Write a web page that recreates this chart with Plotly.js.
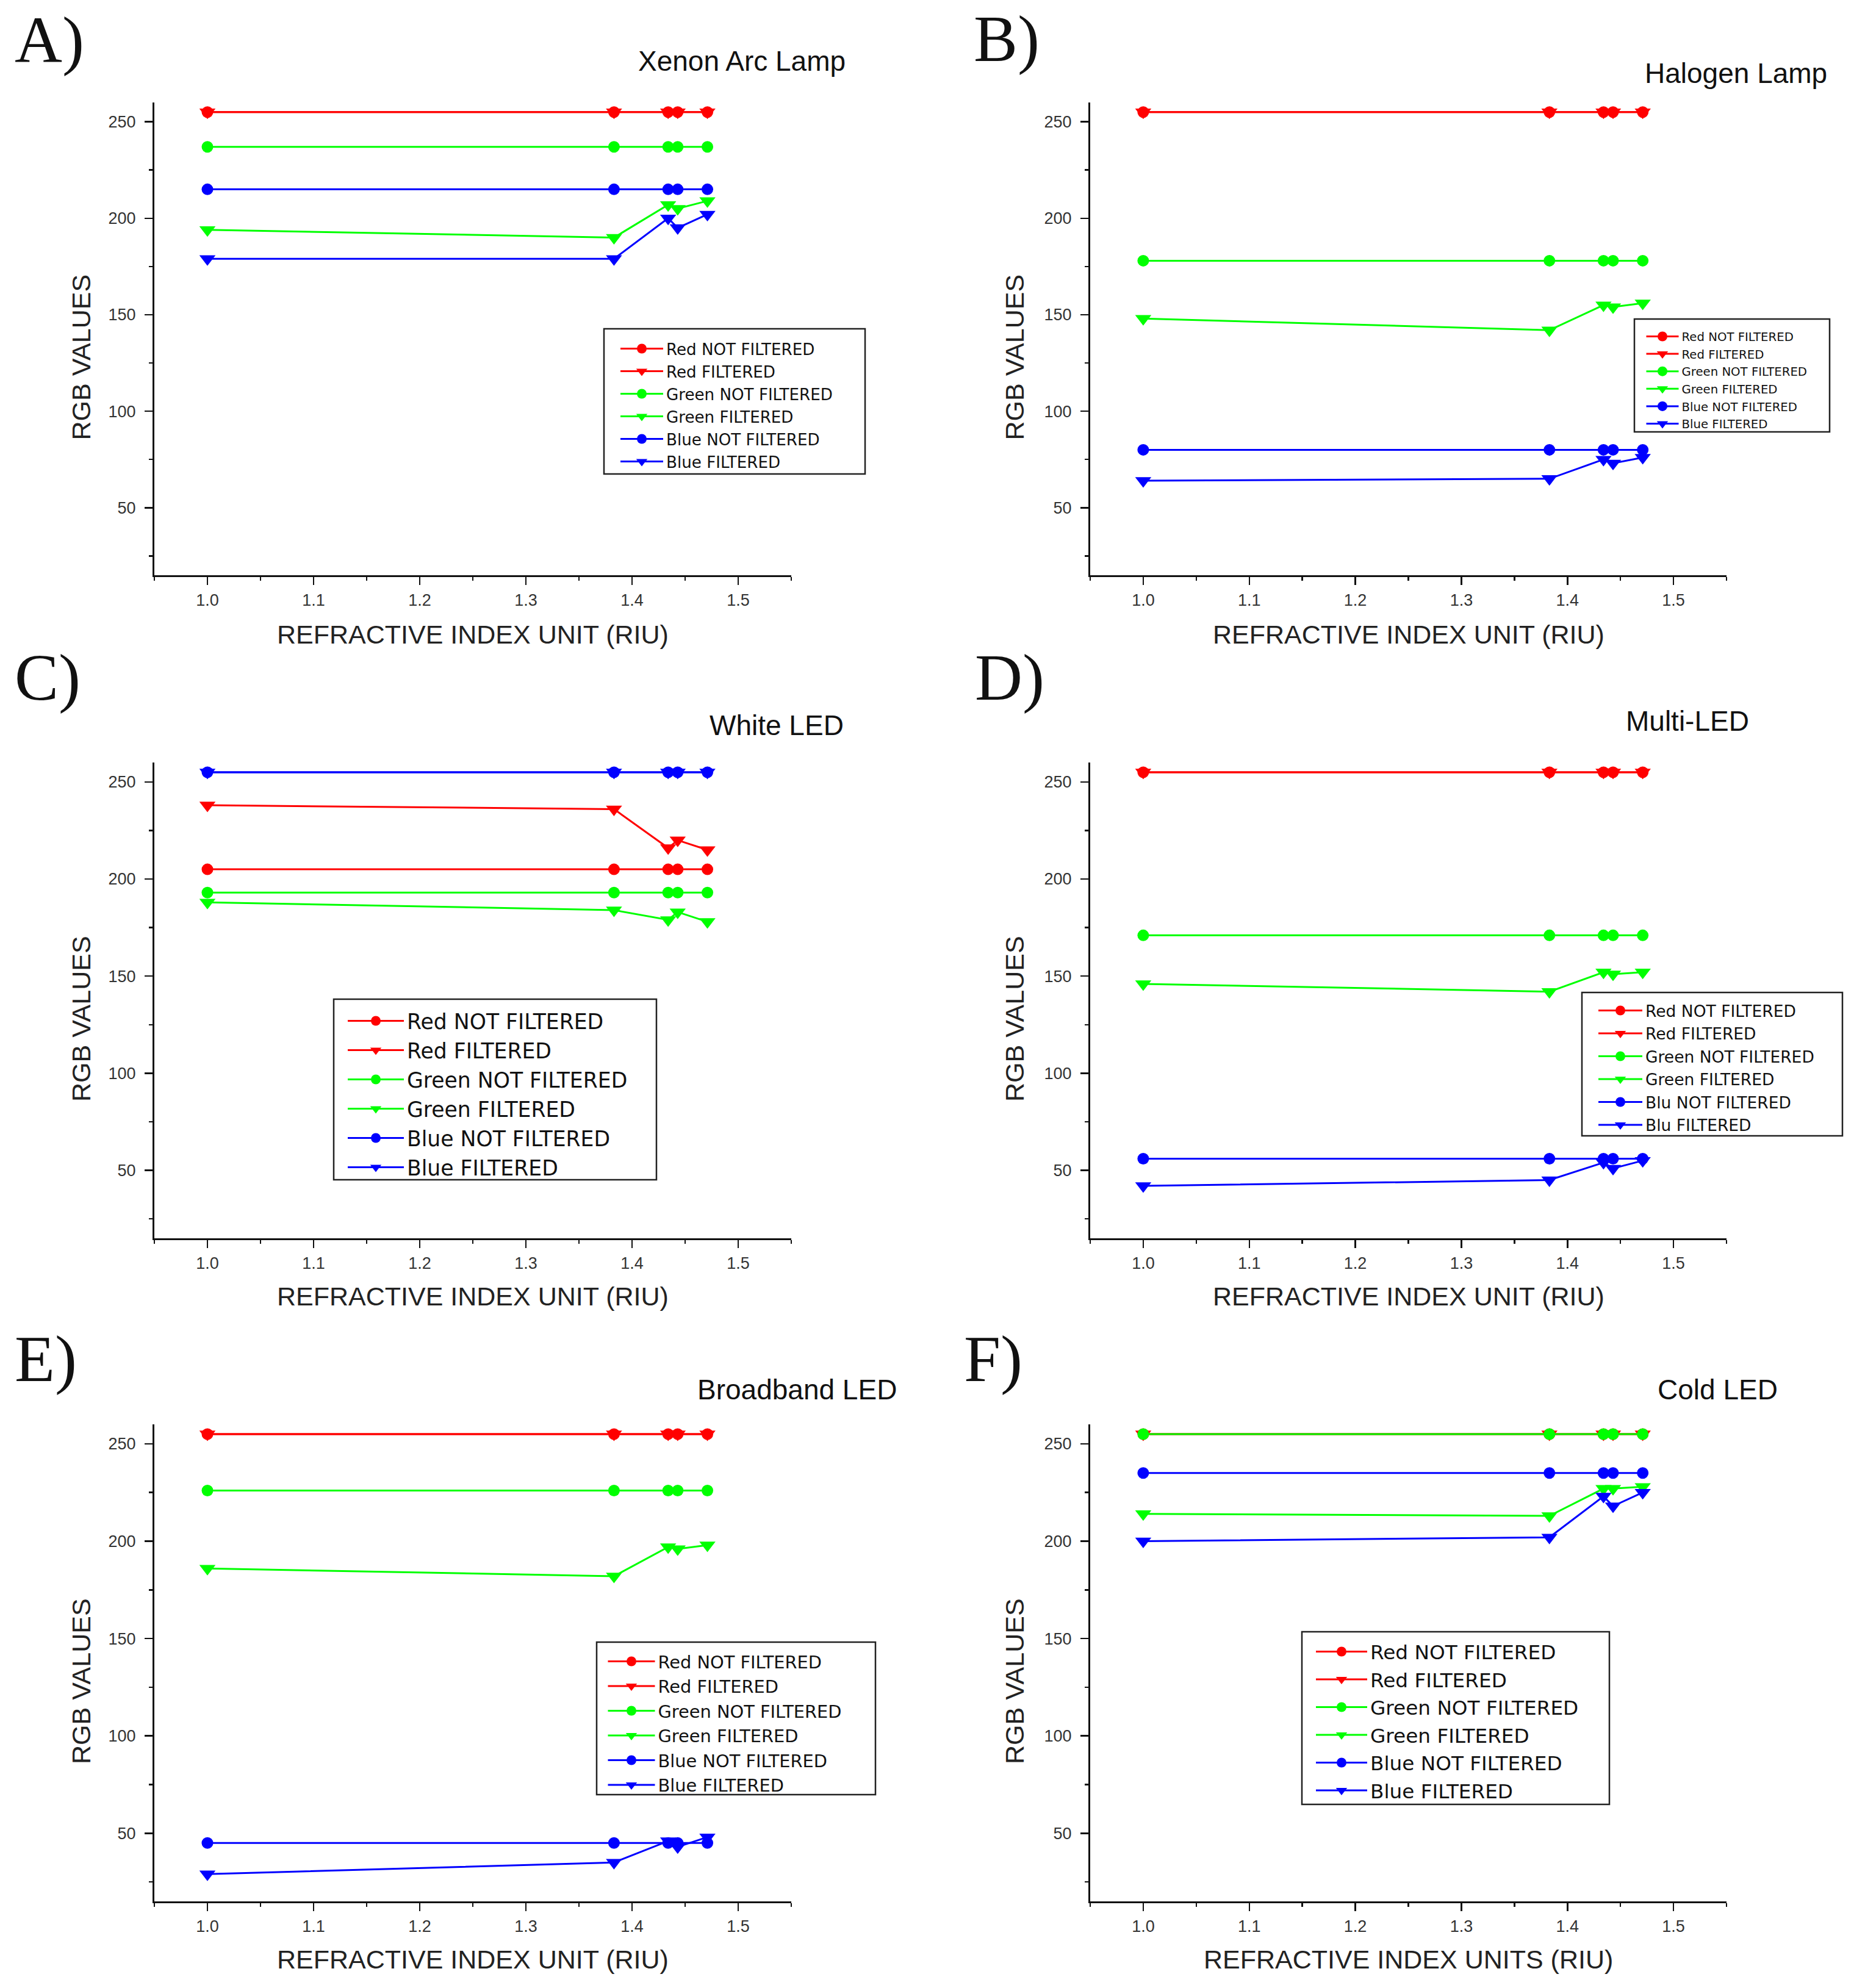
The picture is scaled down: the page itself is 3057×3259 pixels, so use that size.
<!DOCTYPE html>
<html><head><meta charset="utf-8">
<script src="https://cdn.plot.ly/plotly-3.0.1.min.js"></script>
<style>html,body{margin:0;padding:0;background:#fff}#chart{width:3057px;height:3259px}</style>
</head><body><div id="chart"></div>
<script>
// ---------- DATA ----------
const riu = [1.0, 1.383, 1.434, 1.443, 1.471];
const seriesNames = ['Red NOT FILTERED','Red FILTERED','Green NOT FILTERED','Green FILTERED','Blue NOT FILTERED','Blue FILTERED'];
const seriesNamesMulti = ['Red NOT FILTERED','Red FILTERED','Green NOT FILTERED','Green FILTERED','Blu NOT FILTERED','Blu FILTERED'];
const panelTitles = ['Xenon Arc Lamp','Halogen Lamp','White LED','Multi-LED','Broadband LED','Cold LED'];
const panelLetters = ['A)','B)','C)','D)','E)','F)'];
const xTitles = ['REFRACTIVE INDEX UNIT (RIU)','REFRACTIVE INDEX UNIT (RIU)','REFRACTIVE INDEX UNIT (RIU)','REFRACTIVE INDEX UNIT (RIU)','REFRACTIVE INDEX UNIT (RIU)','REFRACTIVE INDEX UNITS (RIU)'];
const yTitle = 'RGB VALUES';
const xTickVals = [1.0, 1.1, 1.2, 1.3, 1.4, 1.5];
const xTickText = ['1.0','1.1','1.2','1.3','1.4','1.5'];
const yTickVals = [50, 100, 150, 200, 250];

// A) Xenon Arc Lamp
const xenonRedNot   = [255, 255, 255, 255, 255];
const xenonRedFil   = [255, 255, 255, 255, 255];
const xenonGreenNot = [237, 237, 237, 237, 237];
const xenonGreenFil = [194, 190, 207, 205, 209];
const xenonBlueNot  = [215, 215, 215, 215, 215];
const xenonBlueFil  = [179, 179, 200, 195, 202];
// B) Halogen Lamp
const halogenRedNot   = [255, 255, 255, 255, 255];
const halogenRedFil   = [255, 255, 255, 255, 255];
const halogenGreenNot = [178, 178, 178, 178, 178];
const halogenGreenFil = [148, 142, 155, 154, 156];
const halogenBlueNot  = [80, 80, 80, 80, 80];
const halogenBlueFil  = [64, 65, 75, 73, 76];
// C) White LED
const whiteRedNot   = [205, 205, 205, 205, 205];
const whiteRedFil   = [238, 236, 216, 220, 215];
const whiteGreenNot = [193, 193, 193, 193, 193];
const whiteGreenFil = [188, 184, 179, 183, 178];
const whiteBlueNot  = [255, 255, 255, 255, 255];
const whiteBlueFil  = [255, 255, 255, 255, 255];
// D) Multi-LED
const multiRedNot   = [255, 255, 255, 255, 255];
const multiRedFil   = [255, 255, 255, 255, 255];
const multiGreenNot = [171, 171, 171, 171, 171];
const multiGreenFil = [146, 142, 152, 151, 152];
const multiBlueNot  = [56, 56, 56, 56, 56];
const multiBlueFil  = [42, 45, 54, 51, 55];
// E) Broadband LED
const broadRedNot   = [255, 255, 255, 255, 255];
const broadRedFil   = [255, 255, 255, 255, 255];
const broadGreenNot = [226, 226, 226, 226, 226];
const broadGreenFil = [186, 182, 197, 196, 198];
const broadBlueNot  = [45, 45, 45, 45, 45];
const broadBlueFil  = [29, 35, 46, 43, 48];
// F) Cold LED
const coldRedNot   = [255, 255, 255, 255, 255];
const coldRedFil   = [255, 255, 255, 255, 255];
const coldGreenNot = [255, 255, 255, 255, 255];
const coldGreenFil = [214, 213, 227, 227, 228];
const coldBlueNot  = [235, 235, 235, 235, 235];
const coldBlueFil  = [200, 202, 223, 218, 225];

// ---------- STYLE / GEOMETRY ----------
const W = 3057, H = 3259;
const seriesColors = ['#ff0000','#ff0000','#00ff00','#00ff00','#0000ff','#0000ff'];
const seriesSymbols = ['circle','triangle-down','circle','triangle-down','circle','triangle-down'];
const seriesSizes = [19, 23, 19, 23, 19, 23];
const colX = [[253, 1297], [1787, 2830]];
const rowY = [[168, 943], [1250, 2030], [2335, 3117]];
// legend frame [x0,y0,x1,y1]
const legendBox = [[990, 539, 1418, 777], [2679, 523, 2999, 708], [547, 1638, 1076, 1934],
                   [2593, 1627, 3020, 1862], [978, 2692, 1435, 2942], [2134, 2675, 2638, 2958]];
// symbol centre x, first row centre y, row pitch, symbol item width
const legendItem = [[1052, 572, 37, 70], [2725, 552, 28.6, 53], [616, 1674, 48, 92],
                    [2656, 1657, 37.5, 72], [1035, 2724, 40.5, 77], [2199, 2708, 45.5, 84]];
const titlePos = [[1216, 100], [2845, 120], [1273, 1189], [2766, 1182], [1306, 2278], [2815, 2278]];
const letterPos = [[22, 66], [1594, 64], [22, 1111], [1596, 1111], [22, 2228], [1578, 2228]];

const panels = [
  [xenonRedNot, xenonRedFil, xenonGreenNot, xenonGreenFil, xenonBlueNot, xenonBlueFil],
  [halogenRedNot, halogenRedFil, halogenGreenNot, halogenGreenFil, halogenBlueNot, halogenBlueFil],
  [whiteRedNot, whiteRedFil, whiteGreenNot, whiteGreenFil, whiteBlueNot, whiteBlueFil],
  [multiRedNot, multiRedFil, multiGreenNot, multiGreenFil, multiBlueNot, multiBlueFil],
  [broadRedNot, broadRedFil, broadGreenNot, broadGreenFil, broadBlueNot, broadBlueFil],
  [coldRedNot, coldRedFil, coldGreenNot, coldGreenFil, coldBlueNot, coldBlueFil]
];

const px = x => x / W;
const py = y => 1 - y / H;
const SANS = 'Liberation Sans, Arial, sans-serif';
const LEGEND_FONT = 'DejaVu Sans, Liberation Sans, sans-serif';

const data = [];
const layout = {
  width: W, height: H,
  margin: {l: 0, r: 0, t: 0, b: 0},
  paper_bgcolor: '#fff', plot_bgcolor: '#fff',
  showlegend: true,
  annotations: [],
  shapes: []
};

panels.forEach((series, p) => {
  const col = p % 2, row = Math.floor(p / 2);
  const sfx = p === 0 ? '' : String(p + 1);
  const legendKey = 'legend' + sfx;
  const names = p === 3 ? seriesNamesMulti : seriesNames;
  series.forEach((vals, s) => {
    data.push({
      x: riu, y: vals, type: 'scatter', mode: 'lines+markers',
      name: names[s], xaxis: 'x' + sfx, yaxis: 'y' + sfx, legend: legendKey,
      line: {color: seriesColors[s], width: 3},
      marker: {symbol: seriesSymbols[s], size: seriesSizes[s], color: seriesColors[s]},
      cliponaxis: false
    });
  });
  const [x0, x1] = colX[col], [y0, y1] = rowY[row];
  layout['xaxis' + sfx] = {
    domain: [px(x0), px(x1)], anchor: 'y' + sfx, range: [0.95, 1.55],
    tickvals: xTickVals, ticktext: xTickText,
    showline: true, linecolor: '#111', linewidth: 3, mirror: false,
    ticks: 'outside', ticklen: 13, tickwidth: 2.5, tickcolor: '#111',
    minor: {dtick: 0.05, tick0: 0.95, ticks: 'outside', ticklen: 6, tickwidth: 2.5, tickcolor: '#111'},
    showgrid: false, zeroline: false, ticklabelstandoff: 2,
    tickfont: {family: SANS, size: 27, color: '#333'}
  };
  layout['yaxis' + sfx] = {
    domain: [py(y1), py(y0)], anchor: 'x' + sfx, range: [15, 260],
    tickvals: yTickVals,
    showline: true, linecolor: '#111', linewidth: 3, mirror: false,
    ticks: 'outside', ticklen: 13, tickwidth: 2.5, tickcolor: '#111',
    minor: {dtick: 25, tick0: 0, ticks: 'outside', ticklen: 6, tickwidth: 2.5, tickcolor: '#111'},
    showgrid: false, zeroline: false, ticklabelstandoff: 9,
    tickfont: {family: SANS, size: 27, color: '#333'}
  };
  // legend (transparent, framed by a shape)
  const [mx, ry, pitch, iw] = legendItem[p];
  const lf = (pitch - 3) / 1.3;
  const topY = ry - 5.5 - pitch / 2;
  layout[legendKey] = {
    x: px(mx - 5 - iw / 2), y: py(topY), xref: 'paper', yref: 'paper', xanchor: 'left', yanchor: 'top',
    bgcolor: 'rgba(0,0,0,0)', borderwidth: 0, itemwidth: iw,
    font: {family: LEGEND_FONT, size: lf, color: '#111'},
    tracegroupgap: 0
  };
  const [bx0, by0, bx1, by1] = legendBox[p];
  layout.shapes.push({
    type: 'rect', xref: 'paper', yref: 'paper', layer: 'above',
    x0: px(bx0), x1: px(bx1), y0: py(by1), y1: py(by0),
    line: {color: '#222', width: 2.5}, fillcolor: 'rgba(0,0,0,0)'
  });
  // panel title
  layout.annotations.push({
    text: panelTitles[p], xref: 'paper', yref: 'paper',
    x: px(titlePos[p][0]), y: py(titlePos[p][1]), xanchor: 'center', yanchor: 'middle',
    showarrow: false, font: {family: SANS, size: 46, color: '#111'}
  });
  // panel letter
  layout.annotations.push({
    text: panelLetters[p], xref: 'paper', yref: 'paper',
    x: px(letterPos[p][0]), y: py(letterPos[p][1]), xanchor: 'left', yanchor: 'middle',
    showarrow: false, font: {family: 'Liberation Serif, Times New Roman, serif', size: 108, color: '#111'}
  });
  // x-axis title
  const xt = [1040, 2125, 3212][row];
  layout.annotations.push({
    text: xTitles[p], xref: 'paper', yref: 'paper',
    x: px((x0 + x1) / 2), y: py(xt), xanchor: 'center', yanchor: 'middle',
    showarrow: false, font: {family: SANS, size: 43, color: '#222'}
  });
  // y-axis title
  const yx = [133, 1663][col];
  layout.annotations.push({
    text: yTitle, xref: 'paper', yref: 'paper', textangle: -90,
    x: px(yx), y: py((y0 + y1) / 2 + 30), xanchor: 'center', yanchor: 'middle',
    showarrow: false, font: {family: SANS, size: 43, color: '#222'}
  });
});

Plotly.newPlot('chart', data, layout, {staticPlot: true, displayModeBar: false});
</script>
</body></html>
